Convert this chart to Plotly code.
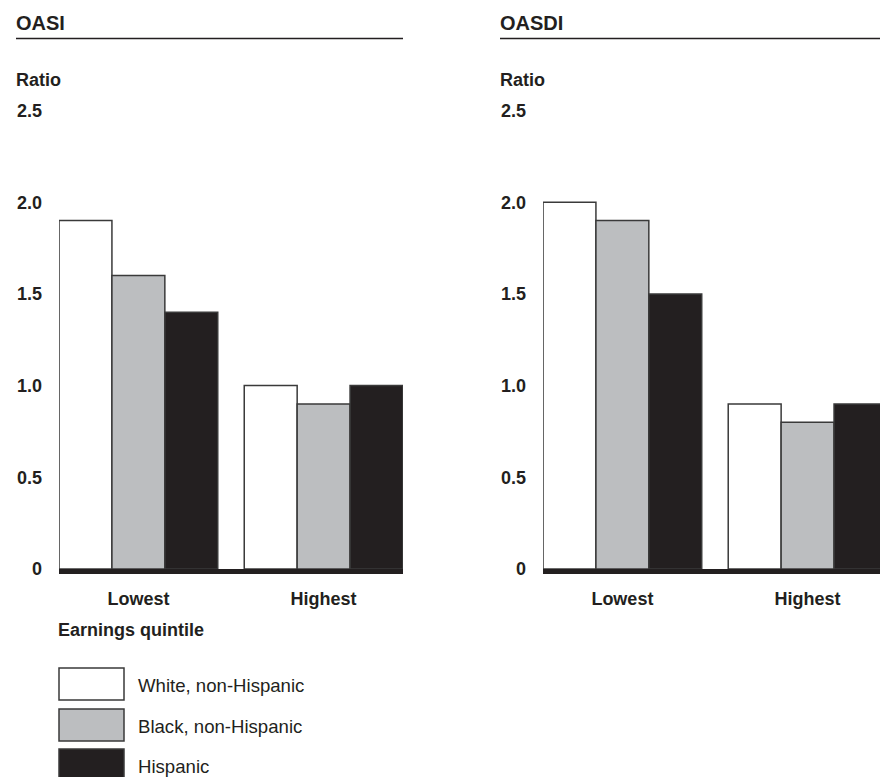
import plotly.graph_objects as go

# ---- data ----
quintiles = ["Lowest", "Highest"]
series_names = ["White, non-Hispanic", "Black, non-Hispanic", "Hispanic"]
oasi_white = [1.9, 1.0]
oasi_black = [1.6, 0.9]
oasi_hispanic = [1.4, 1.0]
oasdi_white = [2.0, 0.9]
oasdi_black = [1.9, 0.8]
oasdi_hispanic = [1.5, 0.9]
tick_vals = [0, 0.5, 1.0, 1.5, 2.0, 2.5]
tick_text = ["0", "0.5", "1.0", "1.5", "2.0", "2.5"]

# ---- style ----
W, H = 880, 777
INK = "#231f20"
fills = ["#ffffff", "#bcbec0", "#231f20"]
FONT = "Liberation Sans, Arial, Helvetica, sans-serif"


def px(x):
    """screen x -> paper fraction"""
    return x / W


def py(y):
    """screen y -> paper fraction"""
    return 1 - y / H


fig = go.Figure()

panels = [
    ("x", "y", [oasi_white, oasi_black, oasi_hispanic]),
    ("x2", "y2", [oasdi_white, oasdi_black, oasdi_hispanic]),
]
for xa, ya, vals in panels:
    for name, v, c in zip(series_names, vals, fills):
        fig.add_trace(go.Bar(
            x=quintiles, y=v, name=name, xaxis=xa, yaxis=ya,
            marker=dict(color=c, line=dict(color="#3a3a3a", width=1.5)),
            showlegend=False, hoverinfo="skip",
        ))

ydom = [py(569), py(110.5)]
axis_common = dict(showgrid=False, zeroline=False, fixedrange=True, automargin=False)
xfont = dict(size=18, weight="bold", color=INK, family=FONT)
fig.update_layout(
    width=W, height=H,
    margin=dict(l=0, r=0, t=0, b=0, autoexpand=False),
    paper_bgcolor="white", plot_bgcolor="white",
    barmode="group", bargap=0.143, bargroupgap=0,
    font=dict(family=FONT, color=INK, size=18),
    xaxis=dict(domain=[px(59), px(403)], range=[-0.4286, 1.4286], anchor="y",
               showline=True, linewidth=4.5, linecolor=INK, ticks="",
               tickfont=xfont, ticklabelstandoff=10, **axis_common),
    xaxis2=dict(domain=[px(543), 1.0], range=[-0.4286, 1.391], anchor="y2",
                showline=True, linewidth=4.5, linecolor=INK, ticks="",
                tickfont=xfont, ticklabelstandoff=10, **axis_common),
    yaxis=dict(domain=ydom, range=[0, 2.5], anchor="x", showline=False,
               tickvals=tick_vals, ticktext=tick_text, ticks="",
               tickfont=xfont, ticklabelstandoff=16, **axis_common),
    yaxis2=dict(domain=ydom, range=[0, 2.5], anchor="x2", showline=False,
                tickvals=tick_vals, ticktext=tick_text, ticks="",
                tickfont=xfont, ticklabelstandoff=16, **axis_common),
)

annotations = []
shapes = []


def label(text, x, y, size=18, bold=True):
    annotations.append(dict(
        text=text, x=px(x - 2), y=py(y), xref="paper", yref="paper",
        xanchor="left", yanchor="middle", showarrow=False,
        font=dict(size=size, family=FONT, color=INK,
                  weight="bold" if bold else "normal"),
    ))


for title, x0, x1 in [("OASI", 16, 403), ("OASDI", 500, 880)]:
    label(title, x0, 23, size=20)
    label("Ratio", x0, 80)
    shapes.append(dict(type="line", xref="paper", yref="paper",
                       x0=px(x0), x1=px(x1), y0=py(38.5), y1=py(38.5),
                       line=dict(color=INK, width=1.5)))

label("Earnings quintile", 58, 630)

legend_tops = [668, 709, 749]
for name, c, top in zip(series_names, fills, legend_tops):
    shapes.append(dict(type="rect", xref="paper", yref="paper",
                       x0=px(59), x1=px(124), y0=py(top), y1=py(top + 32),
                       fillcolor=c, line=dict(color="#3a3a3a", width=1.5)))
    label(name, 138, top + 17, size=18.6, bold=False)

fig.update_layout(annotations=annotations, shapes=shapes)

fig.write_html(
    "out.html",
    config={"displayModeBar": False, "staticPlot": True},
    post_script="document.body.style.margin='0';document.body.style.overflow='hidden';",
)
